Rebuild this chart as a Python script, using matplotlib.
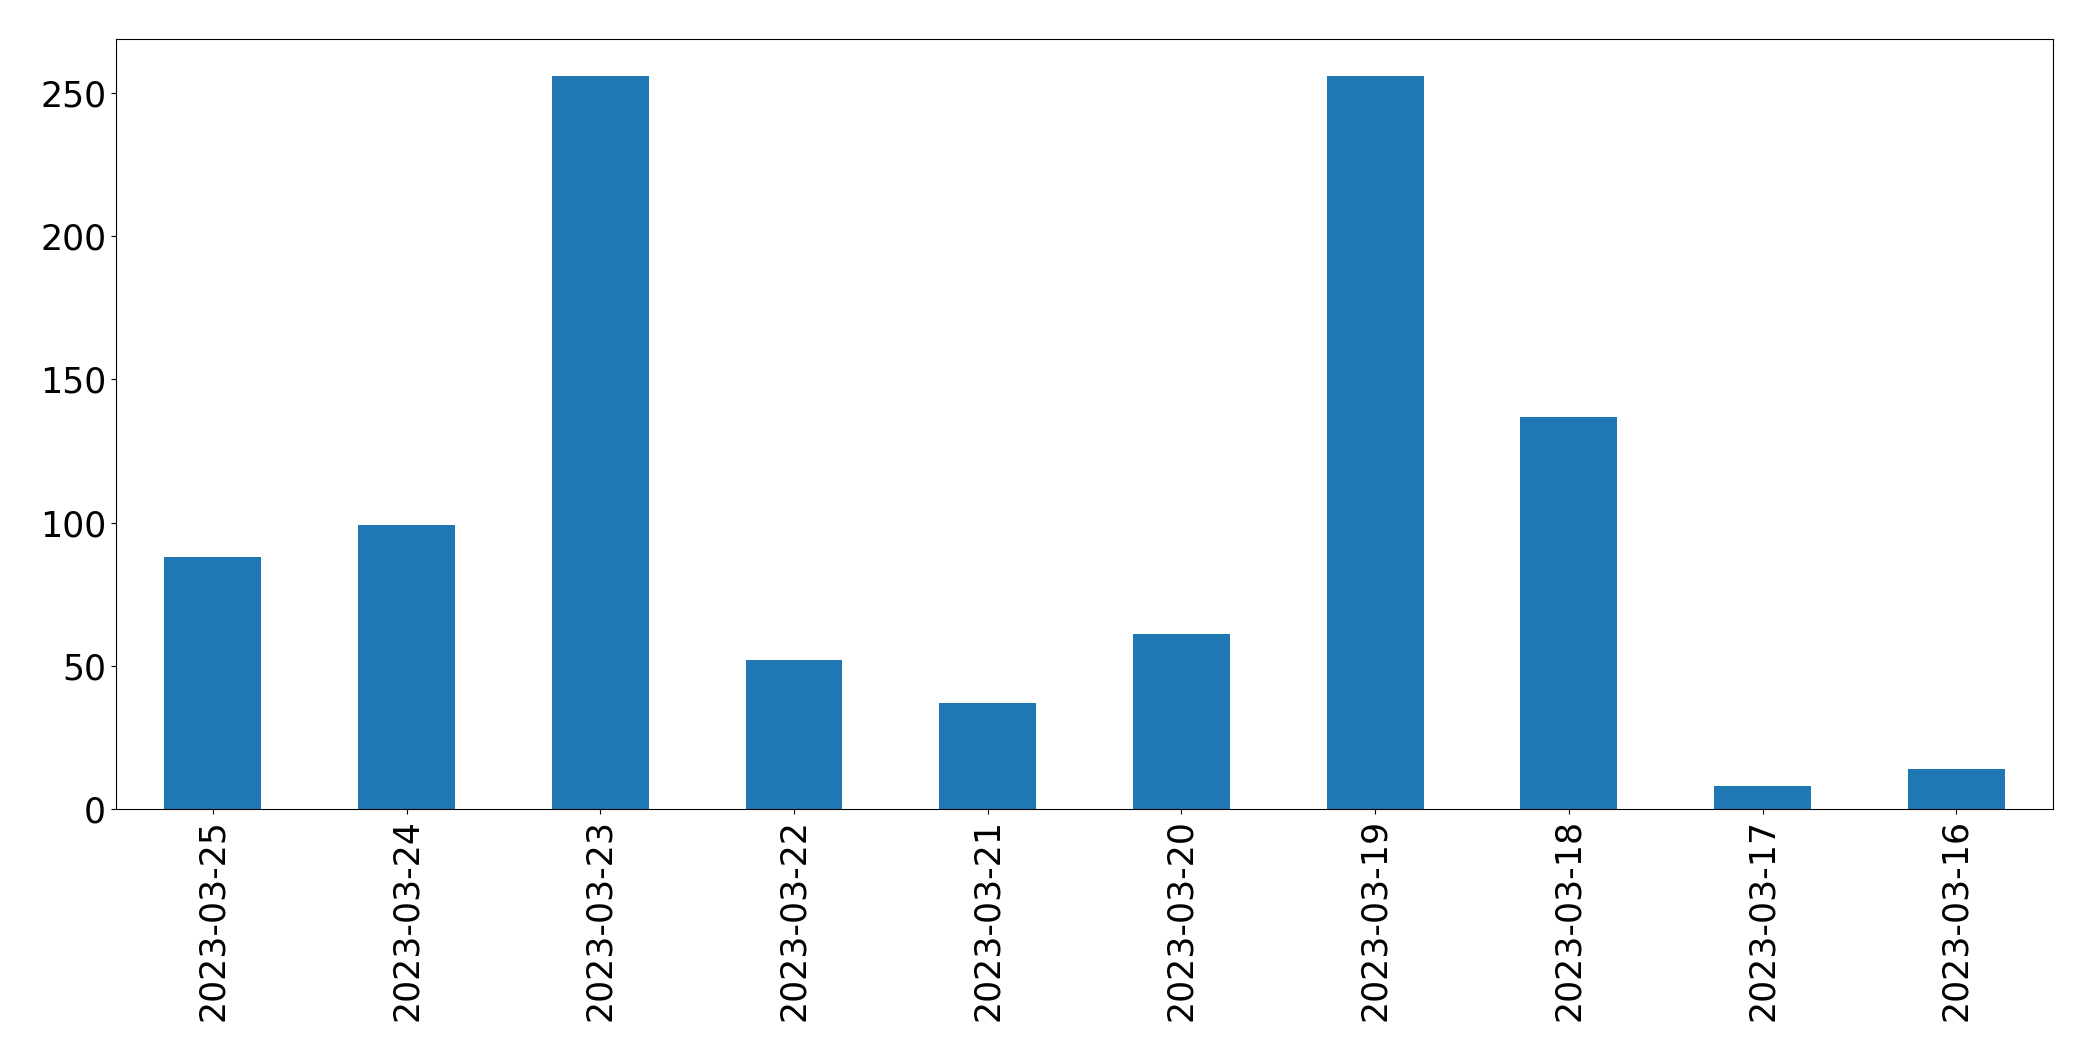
import matplotlib
matplotlib.use("Agg")
from matplotlib import pyplot as plt

# dates as they appear on the x axis (newest first)
dates = ["2023-03-25", "2023-03-24", "2023-03-23", "2023-03-22", "2023-03-21",
         "2023-03-20", "2023-03-19", "2023-03-18", "2023-03-17", "2023-03-16"]
counts = [88, 99, 256, 52, 37, 61, 256, 137, 8, 14]

fig = plt.figure(figsize=(20.93, 10.61), dpi=100)
ax = fig.add_axes([0.0554, 0.2375, 0.9256, 0.7257])

positions = list(range(len(dates)))
ax.bar(positions, counts, width=0.5, color="#1f77b4")
ax.set_xlim(-0.5, len(dates) - 0.5)
ax.set_xticks(positions)
ax.set_xticklabels(dates, rotation=90)
ax.tick_params(axis="both", labelsize=25)

fig.savefig("out.png", dpi=100)
